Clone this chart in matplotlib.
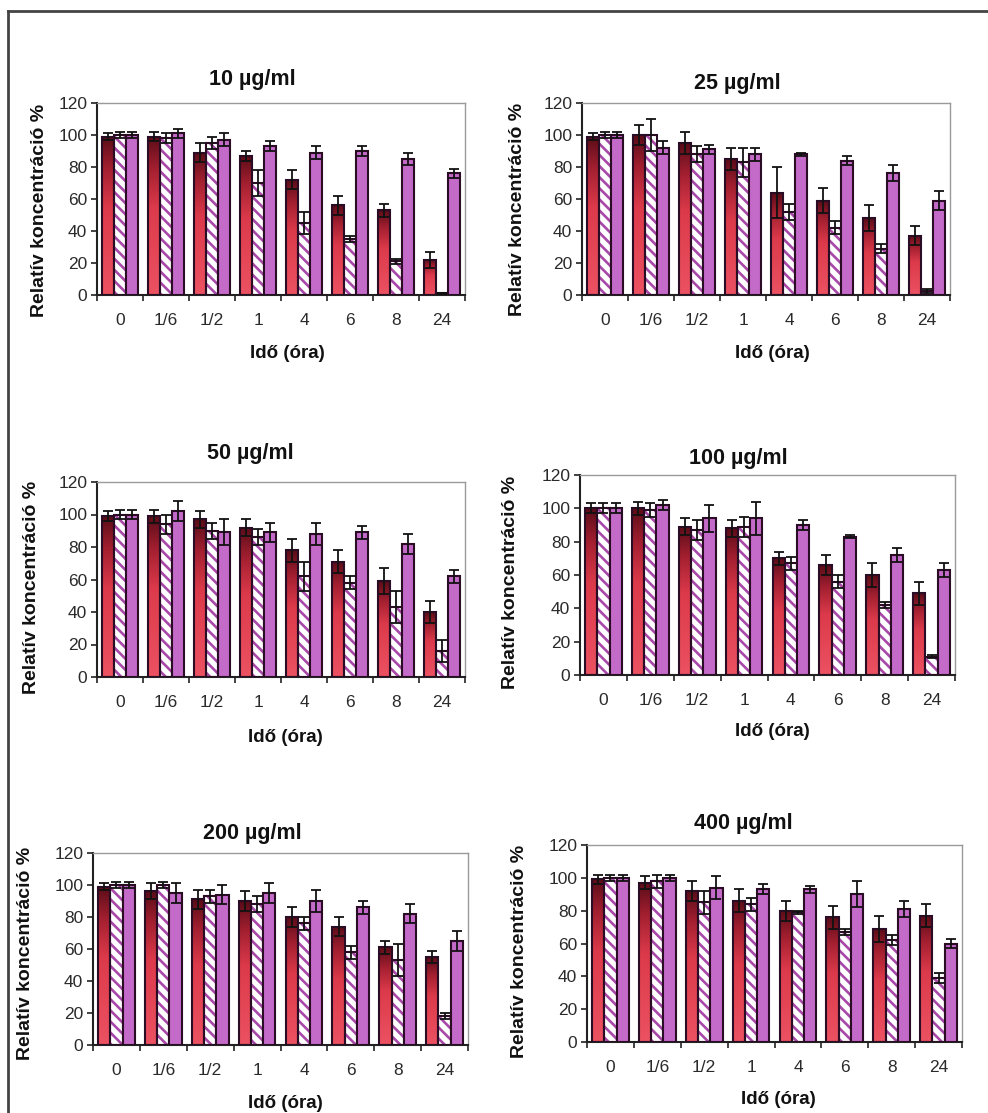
import numpy as np
import matplotlib
matplotlib.use("Agg")
import matplotlib.pyplot as plt
from matplotlib.colors import LinearSegmentedColormap
from matplotlib.lines import Line2D

plt.rcParams['font.family'] = ['Liberation Sans', 'DejaVu Sans']
plt.rcParams['hatch.linewidth'] = 1.9

# ---------------- data ----------------
categories = ['0', '1/6', '1/2', '1', '4', '6', '8', '24']
titles = ['10 µg/ml', '25 µg/ml', '50 µg/ml', '100 µg/ml', '200 µg/ml', '400 µg/ml']

c10_red = [99, 99, 89, 87, 72, 56, 53, 22]
c10_red_err = [2, 3, 6, 3, 6, 6, 4, 5]
c10_hat = [100, 98, 95, 70, 45, 35, 21, 1]
c10_hat_err = [2, 3, 4, 8, 7, 2, 1.5, 0.5]
c10_pur = [100, 101, 97, 93, 89, 90, 85, 76]
c10_pur_err = [2, 3, 4, 3, 4, 3, 4, 3]

c25_red = [99, 100, 95, 85, 64, 59, 48, 37]
c25_red_err = [2, 6, 7, 7, 16, 8, 8, 6]
c25_hat = [100, 100, 88, 83, 52, 42, 29, 2.5]
c25_hat_err = [2, 10, 5, 9, 5, 4, 3, 1]
c25_pur = [100, 92, 91, 88, 88, 84, 76, 59]
c25_pur_err = [2, 4, 3, 4, 1, 3, 5, 6]

c50_red = [99, 99, 97, 92, 78, 71, 59, 40]
c50_red_err = [3, 4, 5, 5, 7, 7, 8, 7]
c50_hat = [100, 94, 90, 86, 62, 58, 43, 16]
c50_hat_err = [3, 6, 5, 5, 9, 4, 10, 7]
c50_pur = [100, 102, 89, 89, 88, 89, 82, 62]
c50_pur_err = [3, 6, 8, 6, 7, 4, 6, 4]

c100_red = [100, 100, 89, 88, 70, 66, 60, 49]
c100_red_err = [3, 4, 5, 5, 4, 6, 7, 7]
c100_hat = [100, 99, 87, 89, 67, 56, 42, 11]
c100_hat_err = [3, 4, 6, 6, 4, 4, 2, 1]
c100_pur = [100, 102, 94, 94, 90, 83, 72, 63]
c100_pur_err = [3, 3, 8, 10, 3, 1, 4, 4]

c200_red = [99, 96, 91, 90, 80, 74, 61, 55]
c200_red_err = [2, 5, 6, 6, 6, 6, 4, 4]
c200_hat = [100, 100, 93, 88, 76, 58, 53, 18]
c200_hat_err = [2, 2, 4, 5, 4, 4, 10, 2]
c200_pur = [100, 95, 94, 95, 90, 86, 82, 65]
c200_pur_err = [2, 6, 6, 6, 7, 4, 6, 6]

c400_red = [99, 97, 92, 86, 80, 76, 69, 77]
c400_red_err = [3, 4, 6, 7, 6, 7, 8, 7]
c400_hat = [100, 98, 85, 84, 79, 67, 62, 39]
c400_hat_err = [2, 4, 7, 4, 1, 2, 3, 3]
c400_pur = [100, 100, 94, 93, 93, 90, 81, 60]
c400_pur_err = [2, 2, 7, 3, 2, 8, 5, 3]

panels = [
    (c10_red, c10_red_err, c10_hat, c10_hat_err, c10_pur, c10_pur_err),
    (c25_red, c25_red_err, c25_hat, c25_hat_err, c25_pur, c25_pur_err),
    (c50_red, c50_red_err, c50_hat, c50_hat_err, c50_pur, c50_pur_err),
    (c100_red, c100_red_err, c100_hat, c100_hat_err, c100_pur, c100_pur_err),
    (c200_red, c200_red_err, c200_hat, c200_hat_err, c200_pur, c200_pur_err),
    (c400_red, c400_red_err, c400_hat, c400_hat_err, c400_pur, c400_pur_err),
]

# ---------------- layout (pixel boxes) ----------------
W, H = 988, 1113
axes_px = [  # left, right, top, bottom
    (97, 465, 103, 295),
    (582, 950, 103, 295),
    (97, 465, 482, 677),
    (580, 955, 475, 675),
    (93, 468, 853, 1045),
    (587, 962, 845, 1042),
]
title_px = [(252, 79), (737, 83), (250, 453), (738, 458), (252, 833), (743, 823)]
xlabel_px = [(287, 353), (772, 353), (285, 737), (772, 732), (285, 1103), (778, 1100)]
ylabel_px = [(40, 210), (517, 209), (32, 587), (510, 582), (26, 953), (520, 951)]

fig = plt.figure(figsize=(W / 100, H / 100), dpi=100)
fig.patch.set_facecolor('white')

red_cmap = LinearSegmentedColormap.from_list(
    'redgrad', [(0.0, '#ec5262'), (0.55, '#dc3a4a'), (0.8, '#a21f30'), (1.0, '#5a0c18')])
grad = np.linspace(0, 1, 256).reshape(-1, 1)

edge_col = '#2a0c24'
pur_col = '#c46ac8'
hatch_col = '#a848a8'
bw = 0.262
elw = 1.5

for i, (rv, re, hv, he, pv, pe) in enumerate(panels):
    l, r, t, b = axes_px[i]
    ax = fig.add_axes([l / W, 1 - b / H, (r - l) / W, (b - t) / H])
    x = np.arange(len(categories))

    # red gradient bars (bar centred at x - bw)
    for xi, v in zip(x, rv):
        x0 = xi - 1.5 * bw
        ax.imshow(grad, extent=[x0, x0 + bw, 0, v], origin='lower', aspect='auto',
                  cmap=red_cmap, zorder=2, interpolation='bilinear')
    ax.bar(x - bw, rv, bw, color='none', edgecolor=edge_col, linewidth=elw, zorder=3)

    # hatched bars
    ax.bar(x, hv, bw, color='white', edgecolor=hatch_col, hatch='\\\\\\', linewidth=0, zorder=2)
    ax.bar(x, hv, bw, color='none', edgecolor=edge_col, linewidth=elw, zorder=3)

    # purple bars
    ax.bar(x + bw, pv, bw, color=pur_col, edgecolor=edge_col, linewidth=elw, zorder=3)

    for off, vals, errs in ((-bw, rv, re), (0, hv, he), (bw, pv, pe)):
        ax.errorbar(x + off, vals, yerr=errs, fmt='none', ecolor='#111111',
                    elinewidth=1.3, capsize=3.5, capthick=1.3, zorder=4)

    ax.set_xlim(-0.5, len(categories) - 0.5)
    ax.set_ylim(0, 120)
    ax.set_yticks(range(0, 121, 20))
    ax.set_xticks(x)
    ax.set_xticklabels(categories)
    ax.set_xticks(np.arange(-0.5, len(categories), 1.0), minor=True)
    ax.tick_params(axis='x', which='major', length=0, pad=13, labelsize=12.5, labelcolor='#2a2a2a')
    ax.tick_params(axis='x', which='minor', length=4, width=1.2, direction='out', color='#222222')
    ax.tick_params(axis='y', length=4, width=1.2, pad=3, labelsize=12.5, labelcolor='#2a2a2a',
                   color='#222222')
    for s in ('left', 'bottom'):
        ax.spines[s].set_color('#222222')
        ax.spines[s].set_linewidth(1.5)
    for s in ('top', 'right'):
        ax.spines[s].set_color('#9a9a9a')
        ax.spines[s].set_linewidth(1.0)

    tx, ty = title_px[i]
    fig.text(tx / W, 1 - ty / H, titles[i], ha='center', va='center', fontsize=15.5,
             fontweight='bold', color='#111111')
    lx, ly = xlabel_px[i]
    fig.text(lx / W, 1 - ly / H, 'Idő (óra)', ha='center', va='center', fontsize=13.5,
             fontweight='bold', color='#111111')
    yx, yy = ylabel_px[i]
    fig.text(yx / W, 1 - yy / H, 'Relatív koncentráció %', ha='center', va='center',
             rotation=90, fontsize=14, fontweight='bold', color='#111111')

# outer frame (left and top edges visible)
fig.add_artist(Line2D([8 / W, 8 / W], [0, 1 - 11 / H], color='#444444', linewidth=2,
                      transform=fig.transFigure))
fig.add_artist(Line2D([8 / W, 1], [1 - 11 / H, 1 - 11 / H], color='#444444', linewidth=2,
                      transform=fig.transFigure))

fig.savefig('out.png', dpi=100)
